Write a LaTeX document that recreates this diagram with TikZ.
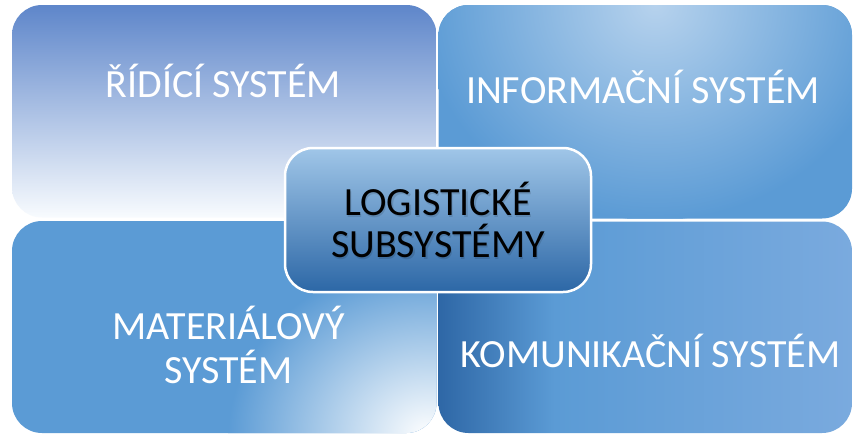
\documentclass[tikz,border=0pt]{standalone}
\usepackage{fontspec}
\setmainfont{Carlito}
\usetikzlibrary{calc}

% palette
\definecolor{accent}{RGB}{91,155,213}
\definecolor{tltop}{RGB}{94,134,202}
\definecolor{tlmid}{RGB}{160,191,228}
\definecolor{tlbot}{RGB}{248,251,254}
\definecolor{trglow}{RGB}{182,210,237}
\definecolor{komA}{RGB}{46,103,166}
\definecolor{komC}{RGB}{122,170,222}
\definecolor{hubtop}{RGB}{160,198,232}
\definecolor{hubbot}{RGB}{44,103,166}

% left-to-right shading of the lower right panel (25bp..75bp spans the path)
\pgfdeclarehorizontalshading{komshade}{100bp}{%
  color(0bp)=(komA); color(25bp)=(komA); color(39bp)=(accent);
  color(75bp)=(komC); color(100bp)=(komC)}

\begin{document}
\begin{tikzpicture}[x=1pt,y=-1pt,
  panel/.style={rounded corners=30pt},
  paneltext/.style={text=white, font=\fontsize{40}{44}\selectfont,
    inner sep=0pt, align=center},
  hubbox/.style={rectangle, rounded corners=28pt, draw=white, line width=2.5pt,
    top color=hubtop, bottom color=hubbot,
    minimum width=306pt, minimum height=144pt, inner sep=0pt},
  hubtext/.style={font=\fontsize{40}{42}\selectfont, inner sep=0pt, align=center}]
\useasboundingbox (0,0) rectangle (853,434);
\fill[white] (0,0) rectangle (853,434);

% upper left panel: vertical fade to white
\shade[panel, top color=tltop, middle color=tlmid, bottom color=tlbot]
  (12,5) rectangle (436.5,217.5);

% upper right panel: flat blue with a soft glow near the top
\fill[panel, accent] (438.5,5) rectangle (852,218.5);
\begin{scope}
  \clip[panel] (438.5,5) rectangle (852,218.5);
  \shade[inner color=trglow, outer color=accent] (655,5) ellipse (235 and 215);
\end{scope}

% lower left panel: flat blue with a white glow in the lower right corner
\fill[panel, accent] (12,221) rectangle (436.5,433);
\begin{scope}
  \clip[panel] (12,221) rectangle (436.5,433);
  \shade[inner color=white, outer color=accent] (428,436) ellipse (200 and 175);
\end{scope}

% lower right panel: dark-to-light from left to right
\shade[panel, shading=komshade] (438.5,221.5) rectangle (852,433);

% panel captions
\node[paneltext, anchor=base] (ridici) at (223.5,97) {ŘÍDÍCÍ SYSTÉM};
\node[paneltext, anchor=base] (informacni) at (643,103) {INFORMAČNÍ SYSTÉM};
\node[paneltext] (materialovy) at (228.5,345) {MATERIÁLOVÝ\\SYSTÉM};
\node[paneltext, anchor=base] (komunikacni) at (650.5,367) {KOMUNIKAČNÍ SYSTÉM};

% central box with softly shadowed caption
\node[hubbox] (hub) at (438,220) {};
\node[hubtext, text=black, opacity=0.12] (hubglow) at ($(hub.center)+(1.2,1.5)$)
  {LOGISTICKÉ\\SUBSYSTÉMY};
\node[hubtext, text=black] (hublabel) at (hub.center) {LOGISTICKÉ\\SUBSYSTÉMY};
\end{tikzpicture}
\end{document}
